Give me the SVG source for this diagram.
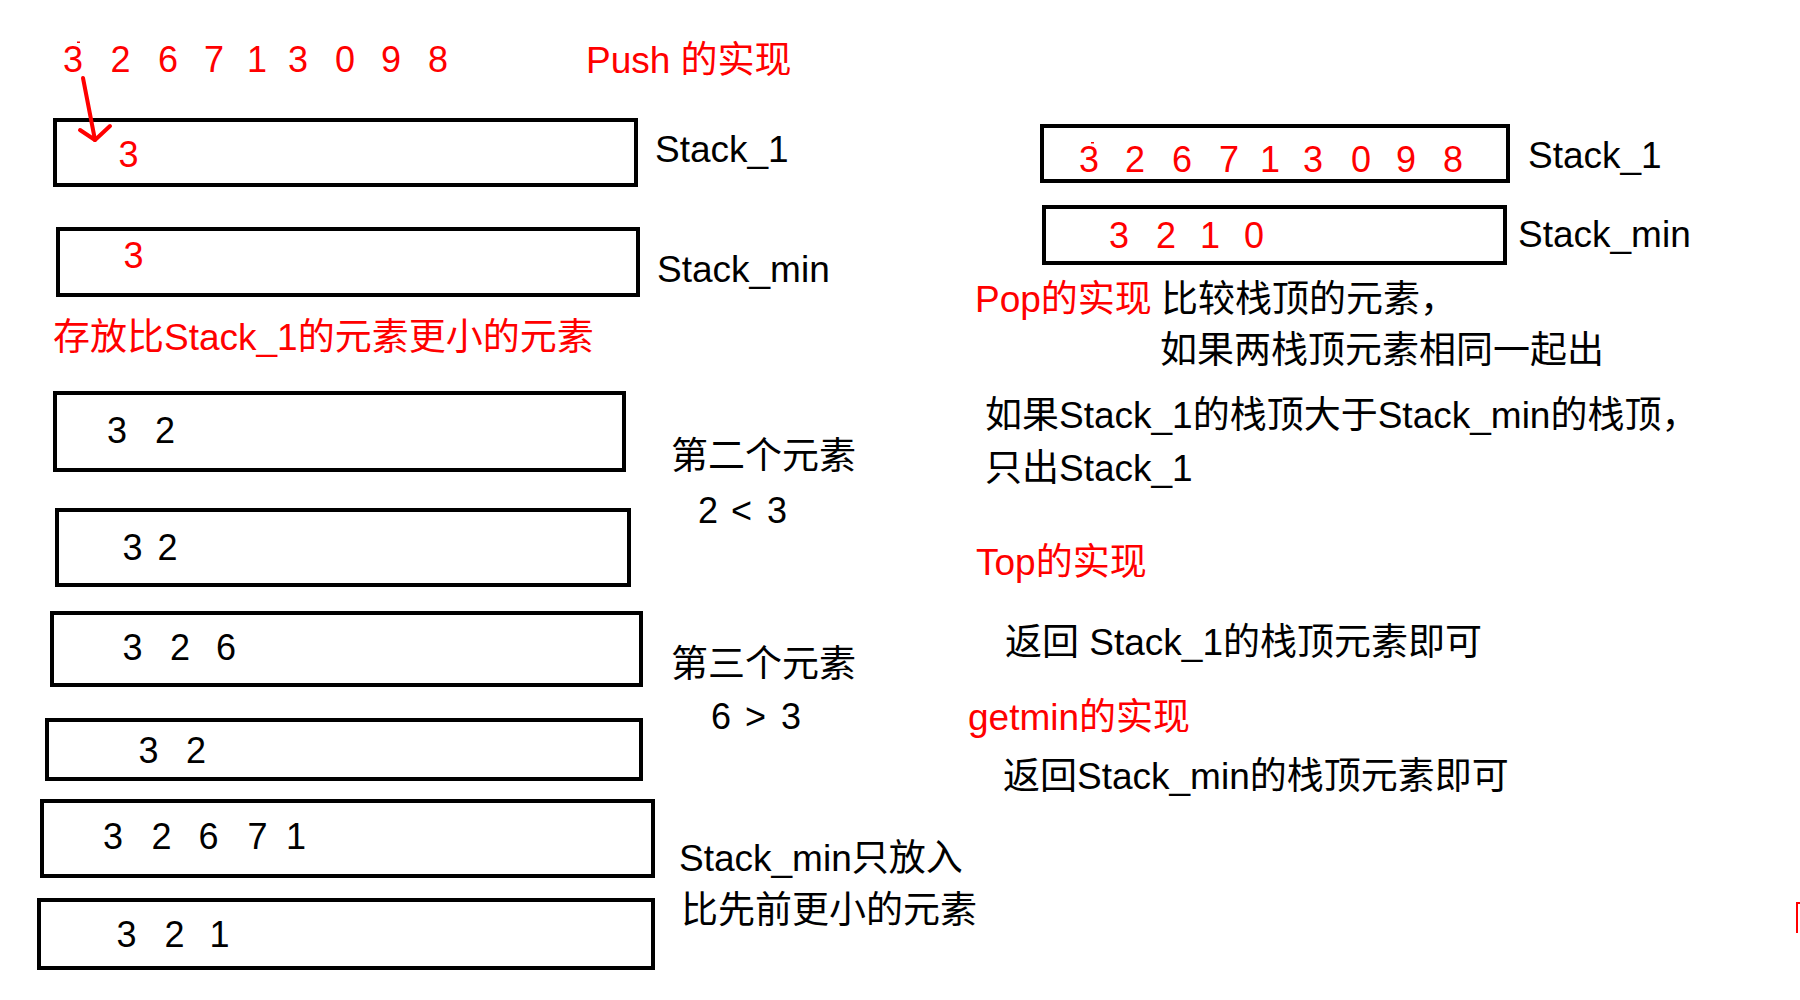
<svg xmlns="http://www.w3.org/2000/svg" width="1800" height="1000" viewBox="0 0 1800 1000">
<style>
text{font-family:"Liberation Sans","Noto Sans CJK SC",sans-serif;font-size:37px;fill:#000}
.d{font-size:36px}
.r{fill:#ff0000}
.box{fill:none;stroke:#000;stroke-width:4}
.arr{fill:none;stroke:#ff0000;stroke-width:4;stroke-linecap:round;stroke-linejoin:round}
</style>
<rect width="1800" height="1000" fill="#fff"/>

<g id="sequence">
<text class="r d" x="63 110.5 158 204 247 288 335 381 428" y="72">326713098</text>
<rect x="77" y="41.5" width="3" height="1.5" fill="#ff0000"/>
</g>
<g id="push-title"><text class="r" x="586" y="73">Push 的实现</text></g>

<g id="stack1-left">
<rect class="box" x="55" y="120" width="581" height="65"/>
<text class="r d" x="118.5" y="166.5">3</text>
<text x="655" y="162">Stack_1</text>
</g>
<g id="stackmin-left">
<rect class="box" x="58" y="229" width="580" height="66"/>
<text class="r d" x="123.5" y="268">3</text>
<text x="657" y="282">Stack_min</text>
</g>
<g id="note-store"><text class="r" x="53" y="350">存放比Stack_1的元素更小的元素</text></g>

<g id="box-a">
<rect class="box" x="55" y="393" width="569" height="77"/>
<text class="d" x="107 135 155" y="443">3 2</text>
</g>
<g id="box-b">
<rect class="box" x="57" y="510" width="572" height="75"/>
<text class="d" x="122.5 147 157.5" y="560">3 2</text>
</g>
<g id="note-second">
<text x="671" y="469">第二个元素</text>
<text class="d" x="698 720 731 755 767" y="522.5">2 &lt; 3</text>
</g>
<g id="box-c">
<rect class="box" x="52" y="613" width="589" height="72"/>
<text class="d" x="122.5 150 170 198 216" y="660">3 2 6</text>
</g>
<g id="note-third">
<text x="671" y="677">第三个元素</text>
<text class="d" x="711 735 745 770 781" y="729">6 &gt; 3</text>
</g>
<g id="box-d">
<rect class="box" x="47" y="720" width="594" height="59"/>
<text class="d" x="138.5 165 186" y="763">3 2</text>
</g>
<g id="box-e">
<rect class="box" x="42" y="801" width="611" height="75"/>
<text class="d" x="103 130 151.5 178 198.5 225 247.5 268 286" y="849">3 2 6 7 1</text>
</g>
<g id="box-f">
<rect class="box" x="39" y="900" width="614" height="68"/>
<text class="d" x="116.5 143 164.5 190 209.5" y="946.5">3 2 1</text>
</g>
<g id="note-min">
<text x="679" y="871">Stack_min只放入</text>
<text x="681" y="923">比先前更小的元素</text>
</g>

<g id="stack1-right">
<rect class="box" x="1042" y="126" width="466" height="55"/>
<text class="r d" x="1079 1125 1172 1219 1260 1303 1351 1396 1443" y="171.5">326713098</text>
<rect x="1091" y="142" width="3" height="1.5" fill="#ff0000"/>
<text x="1528" y="168">Stack_1</text>
</g>
<g id="stackmin-right">
<rect class="box" x="1044" y="207" width="461" height="56"/>
<text class="r d" x="1109 1156 1200 1244" y="248">3210</text>
<text x="1518" y="246.5">Stack_min</text>
</g>

<g id="pop">
<text x="975" y="312"><tspan class="r">Pop的实现</tspan><tspan x="1161">比较栈顶的元素，</tspan></text>
<text x="1160" y="363">如果两栈顶元素相同一起出</text>
<text x="985" y="428">如果Stack_1的栈顶大于Stack_min的栈顶，</text>
<text x="985" y="481">只出Stack_1</text>
</g>
<g id="top">
<text class="r" x="976" y="575">Top的实现</text>
<text x="1005" y="655">返回 Stack_1的栈顶元素即可</text>
</g>
<g id="getmin">
<text class="r" x="968" y="730">getmin的实现</text>
<text x="1003" y="789">返回Stack_min的栈顶元素即可</text>
</g>

<g id="edge-mark"><path d="M1800,903 H1797 V933" fill="none" stroke="#ff0000" stroke-width="2"/></g>

<g id="connectors">
<path class="arr" d="M83,78 L95,140"/>
<path class="arr" d="M80,130 L95,140 L110,126"/>
</g>
</svg>
